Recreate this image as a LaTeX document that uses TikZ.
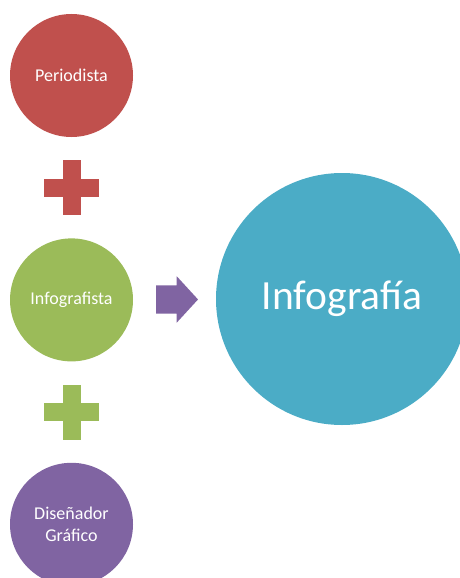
\documentclass[tikz,border=0pt]{standalone}
\usepackage{fontspec}
\setmainfont{Carlito}
\usetikzlibrary{positioning,calc,shapes.arrows}
\definecolor{perred}{HTML}{C0504D}
\definecolor{infgreen}{HTML}{9BBB59}
\definecolor{dispurple}{HTML}{8064A2}
\definecolor{resblue}{HTML}{4BACC6}

\begin{document}
\begin{tikzpicture}[
    x=1pt, y=1pt,
    node distance=101pt,
    circ/.style={circle, minimum size=123pt, inner sep=0pt, align=center, text=white, font=\fontsize{18}{21.5}\selectfont},
    plussign/.pic={\fill (-27.5,-9) rectangle (27.5,9); \fill (-9,-27.5) rectangle (9,27.5);}
  ]
    \useasboundingbox (0,0) rectangle (460,-578);
    \node[circ, fill=perred] (per) at (71.5,-75.5) {Periodista};
    \node[circ, fill=infgreen, below=of per] (inf) {Infografista};
    \node[circ, fill=dispurple, below=of inf] (dis) {Diseñador\\Gráfico};
    \node[circle, fill=resblue, minimum size=252pt, inner sep=0pt, text=white, font=\fontsize{41.5}{48}\selectfont] (res) at (342,-299) {Infografía};
    \pic[fill=perred] at ($(per)!0.5!(inf)$) {plussign};
    \pic[fill=infgreen] at ($(inf)!0.5!(dis)$) {plussign};
    \node[single arrow, fill=dispurple, inner xsep=0pt, inner ysep=14pt, minimum height=42pt, single arrow head extend=9pt, single arrow tip angle=95, xshift=-4pt] (arr) at ($(inf.east)!0.5!(res.west)$) {};
  \end{tikzpicture}
\end{document}
